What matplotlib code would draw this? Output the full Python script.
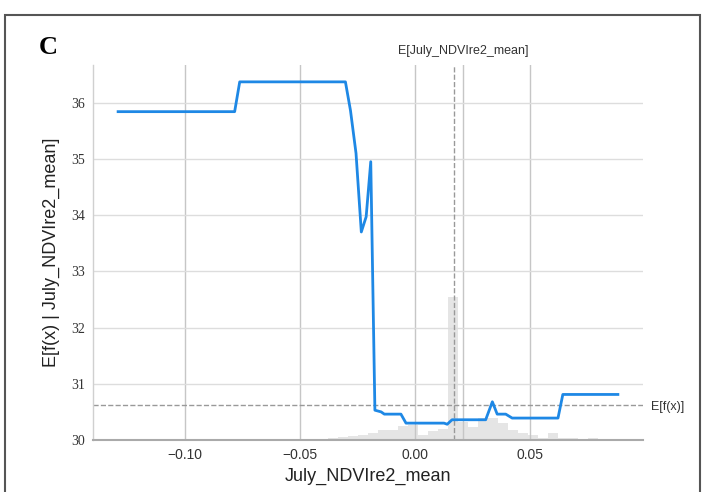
import numpy as np
import matplotlib
matplotlib.use("Agg")
import matplotlib.pyplot as plt
from matplotlib.patches import Rectangle

# Partial dependence of the model output on July_NDVIre2_mean
feature_name = "July_NDVIre2_mean"
feature_values = [-0.1290, -0.0784, -0.0762, -0.0303, -0.0281, -0.0257, -0.0234,
                  -0.0213, -0.0193, -0.0175, -0.0148, -0.0134, -0.0062, -0.0040,
                  0.0125, 0.0139, 0.0160, 0.0306, 0.0335, 0.0356, 0.0393, 0.0421,
                  0.0620, 0.0641, 0.0880]
expected_output = [35.84, 35.84, 36.37, 36.37, 35.86, 35.10, 33.70,
                   33.97, 34.95, 30.53, 30.50, 30.46, 30.46, 30.30,
                   30.30, 30.28, 30.36, 30.36, 30.68, 30.46, 30.46, 30.39,
                   30.39, 30.81, 30.81]

# Sample distribution of the feature (50 equal bins over its range)
hist_range = (-0.1290, 0.0880)
hist_counts = [0, 0, 1, 0, 0, 0, 0, 0, 0, 0,
               0, 0, 0, 0, 0, 0, 1, 0, 0, 0,
               0, 2, 3, 4, 5, 7, 10, 10, 14, 15,
               5, 9, 11, 140, 18, 13, 22, 22, 17, 10,
               7, 5, 2, 7, 2, 2, 1, 2, 1, 0]

feature_mean = 0.0169
model_expected_value = 30.62

x_ticks = [-0.10, -0.05, 0.00, 0.05]
x_tick_labels = ["\u22120.10", "\u22120.05", "0.00", "0.05"]
y_ticks = [30, 31, 32, 33, 34, 35, 36]

blue = "#1E88E5"
sans = "Liberation Sans"
serif = "Liberation Serif"

fig = plt.figure(figsize=(7.10, 4.92), dpi=100)
ax1 = fig.add_axes([0.131, 0.1057, 0.7746, 0.7622])

# histogram of feature values on a twin axis
ax2 = ax1.twinx()
edges = np.linspace(hist_range[0], hist_range[1], len(hist_counts) + 1)
ax2.stairs(hist_counts, edges, fill=True, color="black", alpha=0.1, linewidth=0)
ax2.set_ylim(0, sum(hist_counts))
ax2.set_yticks([])
for s in ax2.spines.values():
    s.set_visible(False)

ax1.set_zorder(ax2.get_zorder() + 1)
ax1.patch.set_visible(False)

ax1.plot(feature_values, expected_output, color=blue, linewidth=2.0,
         solid_joinstyle="round", zorder=5)
ax1.axvline(feature_mean, color="#999999", linestyle="--", linewidth=1, zorder=2)
ax1.axhline(model_expected_value, color="#999999", linestyle="--", linewidth=1, zorder=2)

ax1.set_xlim(-0.1399, 0.0989)
ax1.set_ylim(30.0, 36.67)
ax1.set_xticks(x_ticks)
ax1.set_xticklabels(x_tick_labels, fontfamily=sans, fontsize=10, color="#333333")
ax1.set_yticks(y_ticks)
ax1.set_yticklabels([str(v) for v in y_ticks], fontfamily=serif, fontsize=10,
                    color="#333333")
ax1.tick_params(length=0, pad=6)
ax1.xaxis.grid(True, color="#c6c6c6", linewidth=1)
ax1.yaxis.grid(True, color="#dddddd", linewidth=1)
ax1.set_axisbelow(True)
for side in ("top", "right"):
    ax1.spines[side].set_visible(False)
ax1.spines["left"].set_color("#d0d0d0")
ax1.spines["left"].set_linewidth(1)
ax1.spines["bottom"].set_color("#aaaaaa")
ax1.spines["bottom"].set_linewidth(1.5)

ax1.set_xlabel(feature_name, fontfamily=sans, fontsize=13, color="#222222", labelpad=4)
ax1.set_ylabel("E[f(x) | " + feature_name + "]", fontfamily=sans, fontsize=13,
               color="#222222", labelpad=8)

# expected feature value marker on top
ax3 = ax2.twiny()
ax3.set_xlim(*hist_range)
ax3.set_xticks([feature_mean])
ax3.set_xticklabels(["E[" + feature_name + "]"], fontfamily=sans, fontsize=9,
                    color="#333333")
ax3.tick_params(length=0, pad=6)
ax3.xaxis.grid(True, color="#c6c6c6", linewidth=1)
for s in ax3.spines.values():
    s.set_visible(False)

# expected model output marker on the right
ax4 = ax1.twinx()
ax4.set_ylim(*ax1.get_ylim())
ax4.set_yticks([model_expected_value])
ax4.set_yticklabels(["E[f(x)]"], fontfamily=sans, fontsize=9, color="#333333")
ax4.tick_params(length=0, pad=6)
for s in ax4.spines.values():
    s.set_visible(False)

# panel letter and frame
fig.text(48 / 710, 1 - 47 / 492, "C", fontfamily=serif, fontweight="bold",
         fontsize=19, ha="center", va="center", color="black")
fig.patches.append(Rectangle((5 / 710, -0.05), 695 / 710, 1.05 - 15 / 492,
                             transform=fig.transFigure, fill=False,
                             edgecolor="#555555", linewidth=1.5))

fig.savefig("out.png", dpi=100)
